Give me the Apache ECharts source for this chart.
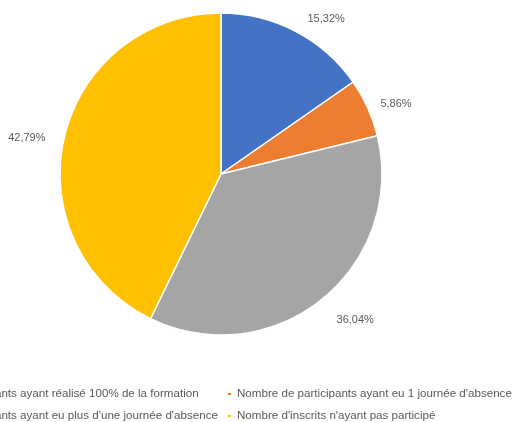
<!DOCTYPE html>
<html>
<head>
<meta charset="utf-8">
<script src="https://cdn.jsdelivr.net/npm/echarts@6/dist/echarts.min.js"></script>
<style>html,body{margin:0;padding:0;background:#fff;}#c{width:512px;height:422px;}</style>
</head>
<body>
<div id="c"></div>
<script>
const categories = [
  "Nombre de participants ayant réalisé 100% de la formation",
  "Nombre de participants ayant eu 1 journée d'absence",
  "Nombre de participants ayant eu plus d'une journée d'absence",
  "Nombre d'inscrits n'ayant pas participé"
];
const values = [15.32, 5.86, 36.04, 42.79];
const labels = ["15,32%", "5,86%", "36,04%", "42,79%"];
const colors = ["#4472C4", "#ED7D31", "#A5A5A5", "#FFC000"];

const chart = echarts.init(document.getElementById('c'), null, {renderer: 'canvas'});
const legendText = {fontSize: 11.6, color: '#595959', fontFamily: 'Liberation Sans, Arial, sans-serif'};
const legendPos = [[-114, 388], [226, 388], [-114, 410], [226, 410]];
const labelOffsets = [[0, 1], [-6, 2], [0, 9], [1, 4]];
chart.setOption({
  animation: false,
  color: colors,
  legend: categories.map((c, i) => ({
    data: [c],
    orient: 'horizontal', left: legendPos[i][0], top: legendPos[i][1],
    icon: 'rect', itemWidth: 5, itemHeight: 4, itemGap: 10, padding: 0,
    textStyle: legendText, selectedMode: false
  })),
  series: [{
    type: 'pie',
    center: [221, 174],
    radius: 161,
    startAngle: 90,
    clockwise: true,
    avoidLabelOverlap: false,
    itemStyle: {borderColor: '#fff', borderWidth: 1.5},
    label: {
      show: true, position: 'outside',
      fontSize: 11, color: '#595959',
      fontFamily: 'Liberation Sans, Arial, sans-serif',
      formatter: p => labels[p.dataIndex]
    },
    labelLine: {show: false, length: 15, length2: 0},
    data: categories.map((c, i) => ({name: c, value: values[i], label: {offset: labelOffsets[i]}}))
  }]
});
</script>
</body>
</html>
